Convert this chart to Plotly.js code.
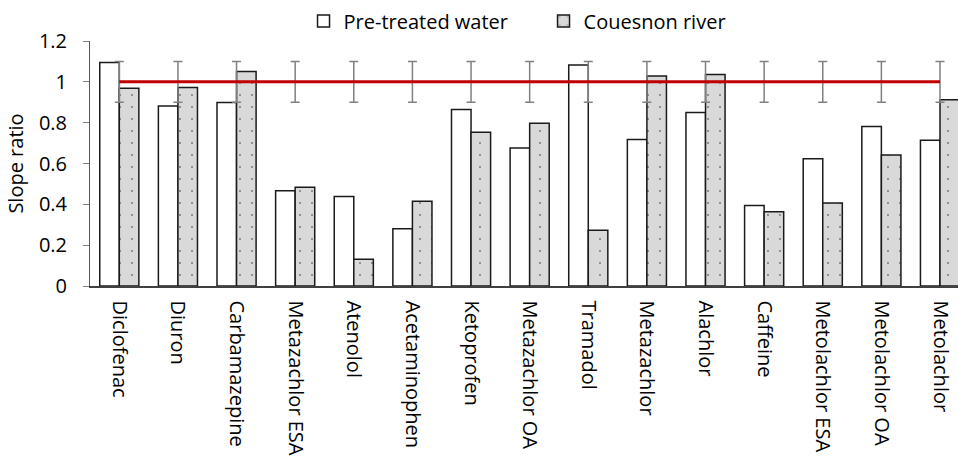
<!DOCTYPE html>
<html>
<head>
<meta charset="utf-8">
<script src="https://cdn.plot.ly/plotly-3.0.1.min.js"></script>
<style>html,body{margin:0;padding:0;overflow:hidden;background:#fff;}</style>
</head>
<body>
<div id="chart" style="width:958px;height:457px;"></div>
<script>
const categories = ["Diclofenac","Diuron","Carbamazepine","Metazachlor ESA","Atenolol","Acetaminophen","Ketoprofen","Metazachlor OA","Tramadol","Metazachlor","Alachlor","Caffeine","Metolachlor ESA","Metolachlor OA","Metolachlor"];
const pretreatedWater = [1.095,0.882,0.899,0.467,0.438,0.281,0.864,0.676,1.082,0.717,0.850,0.394,0.623,0.781,0.714];
const couesnonRiver = [0.969,0.972,1.050,0.484,0.131,0.415,0.753,0.797,0.273,1.029,1.036,0.364,0.407,0.642,0.912];
const referenceRatio = [1,1,1,1,1,1,1,1,1,1,1,1,1,1,1];
const referenceError = [0.1,0.1,0.1,0.1,0.1,0.1,0.1,0.1,0.1,0.1,0.1,0.1,0.1,0.1,0.1];
const yTicks = [0,0.2,0.4,0.6,0.8,1,1.2];

const FONT = "'Open Sans', Lato, sans-serif";
const FS = 20;

const traces = [
  {
    type: "bar", name: "Pre-treated water", x: categories, y: pretreatedWater,
    marker: {color: "#ffffff", line: {color: "#1a1a1a", width: 1.5}},
    hoverinfo: "x+y"
  },
  {
    type: "bar", name: "Couesnon river", x: categories, y: couesnonRiver,
    marker: {color: "#d9d9d9", line: {color: "#1a1a1a", width: 1.5},
      pattern: {shape: ".", fgcolor: "#808080", bgcolor: "#d9d9d9", size: 12, solidity: 0.025}},
    hoverinfo: "x+y"
  },
  {
    type: "scatter", mode: "lines", name: "Reference", x: categories, y: referenceRatio,
    line: {color: "#c00000", width: 3},
    error_y: {type: "data", array: referenceError, visible: true, color: "#808080", thickness: 1.5, width: 4.5},
    showlegend: false, hoverinfo: "skip"
  }
];

const layout = {
  width: 958, height: 457,
  margin: {l: 90, r: 0, t: 41, b: 171, pad: 0},
  paper_bgcolor: "#ffffff", plot_bgcolor: "#ffffff",
  font: {family: FONT, size: FS, color: "#000000"},
  barmode: "group", bargap: 0.333, bargroupgap: 0,
  showlegend: true,
  legend: {orientation: "h", x: 0.246, xanchor: "left", y: 1.082, yanchor: "middle",
    font: {family: FONT, size: FS, color: "#000000"}, bgcolor: "rgba(0,0,0,0)",
    entrywidth: 195, entrywidthmode: "pixels", traceorder: "normal"},
  xaxis: {
    type: "category", range: [-0.5, 14.307], showline: true, linecolor: "#404040", linewidth: 1.5,
    ticks: "", tickangle: 90, showgrid: false, zeroline: false, ticklabelstandoff: 9,
    tickfont: {family: FONT, size: FS, color: "#000000"}, fixedrange: true
  },
  yaxis: {
    range: [0, 1.2], tickvals: yTicks, ticks: "outside", ticklen: 6, tickcolor: "#7f7f7f", tickwidth: 1,
    showline: true, linecolor: "#595959", linewidth: 1, showgrid: false, zeroline: false,
    ticklabelstandoff: 12,
    tickfont: {family: FONT, size: FS, color: "#000000"},
    title: {text: "Slope ratio", font: {family: FONT, size: FS, color: "#000000"}, standoff: 9},
    fixedrange: true
  }
};

Plotly.newPlot("chart", traces, layout, {displayModeBar: false, staticPlot: true});
</script>
</body>
</html>
